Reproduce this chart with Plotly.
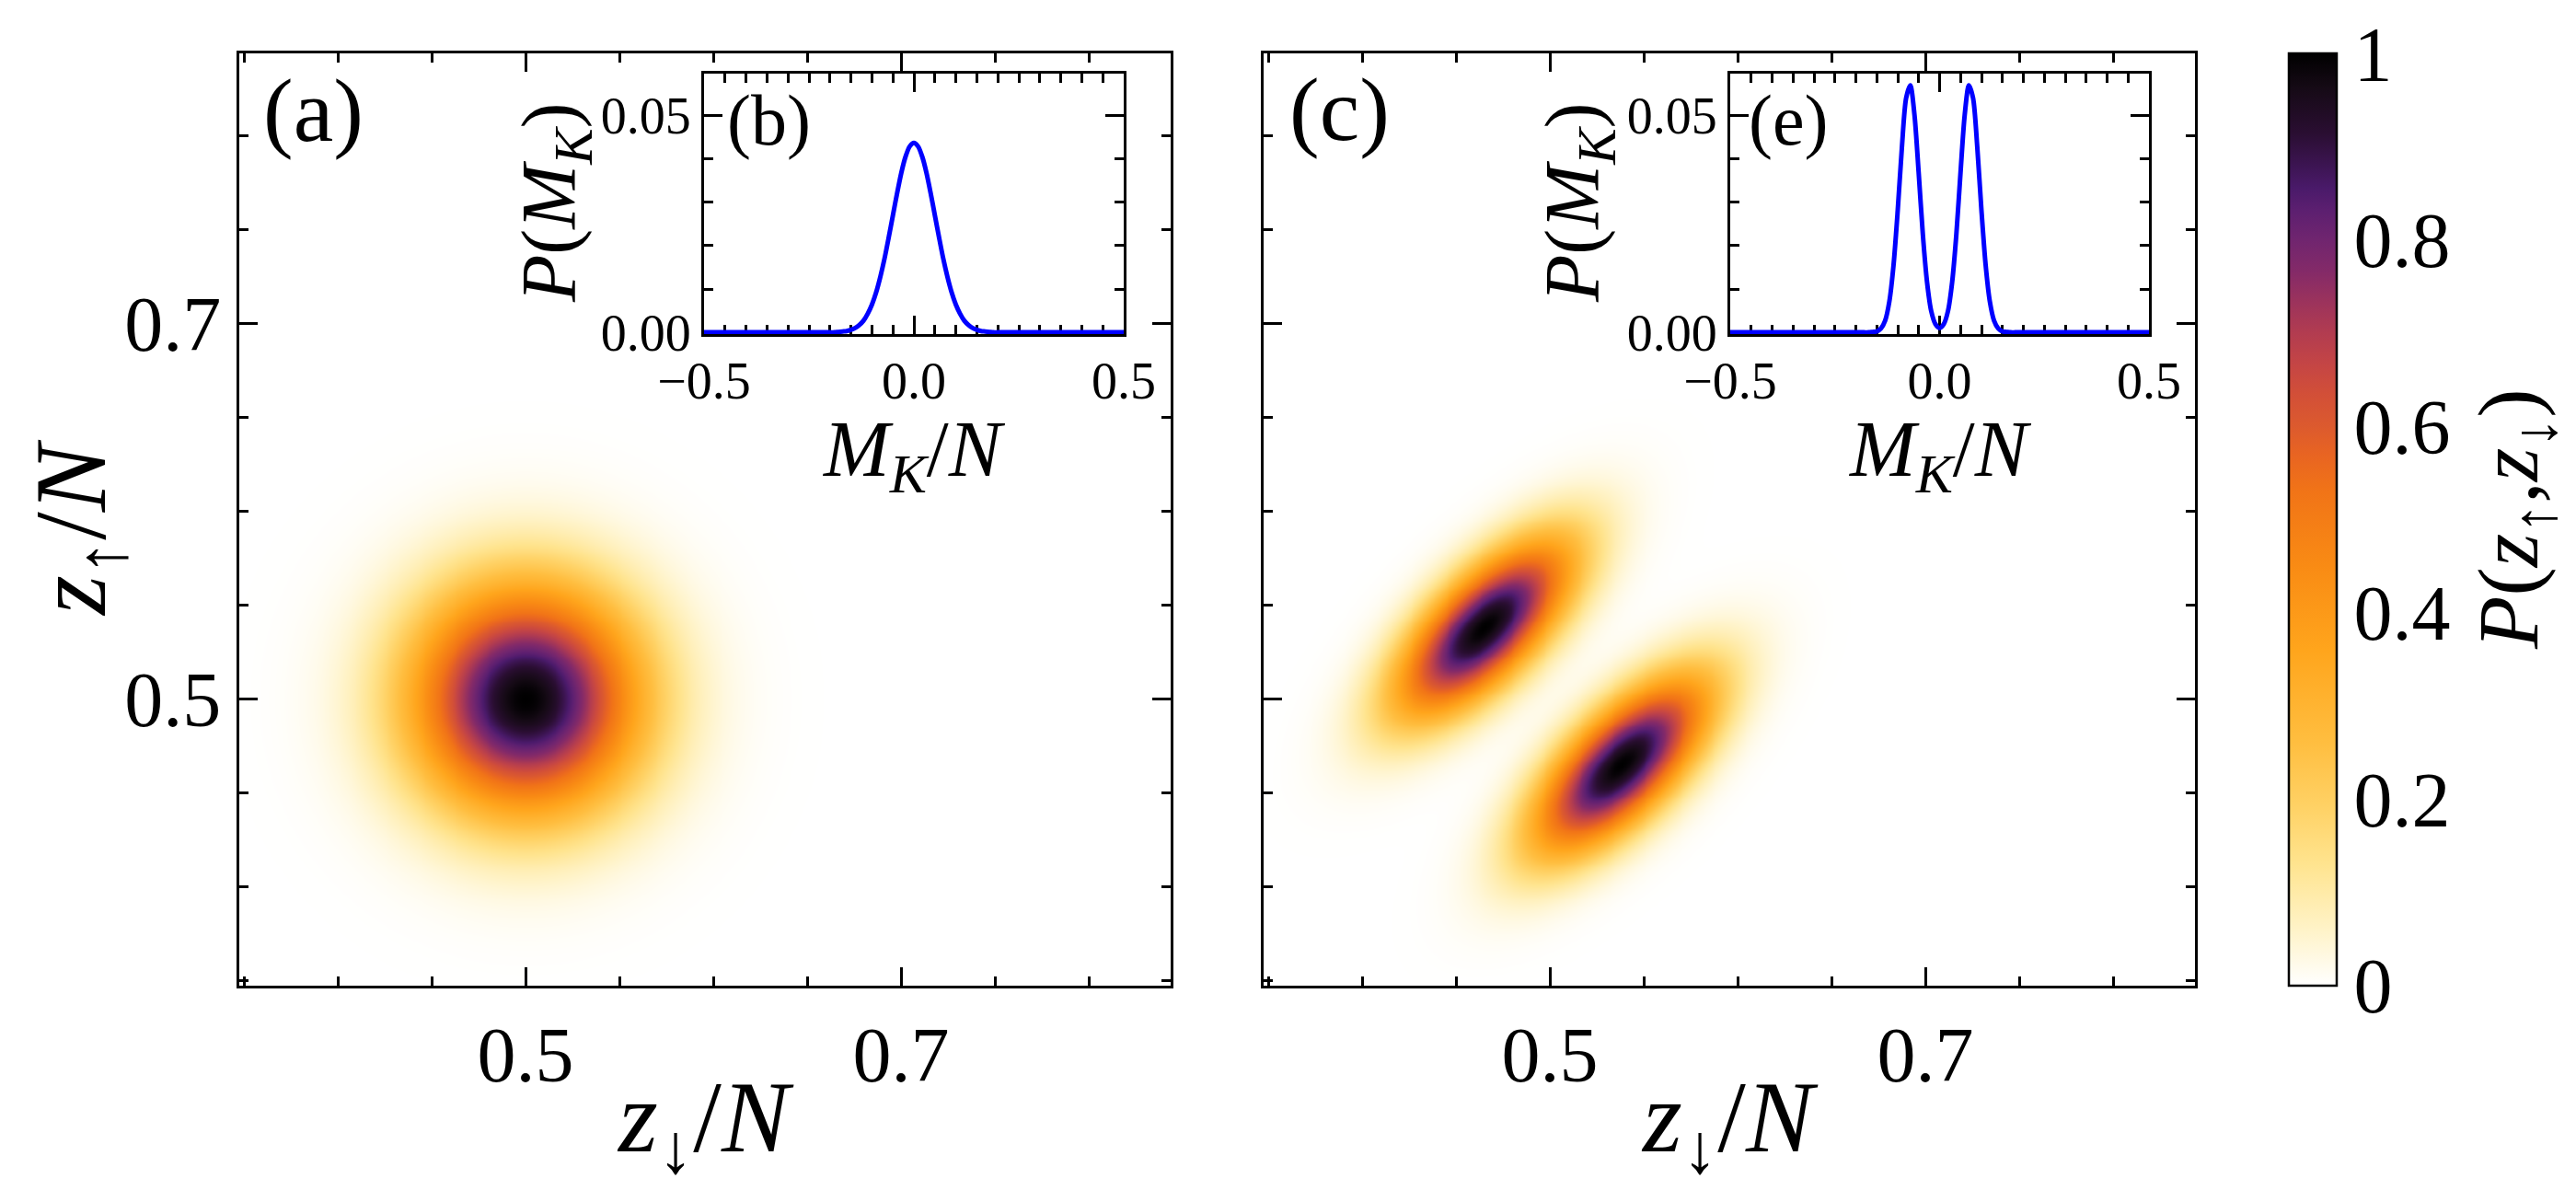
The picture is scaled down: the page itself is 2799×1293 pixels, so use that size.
import numpy as np
import plotly.graph_objects as go

W, H = 2799, 1293
FONT = "Liberation Serif, DejaVu Serif, serif"

# ---------------- data ----------------
# main panels: axis range (z/N) and labelled ticks
Z_RANGE = [0.3475, 0.8436]
Z_MAJOR_START = 0.5
Z_MAJOR_STEP = 0.2
Z_MINOR_START = 0.35
Z_MINOR_STEP = 0.05

# panel (a): single round peak of P(z_up, z_down)
A_CENTER_DOWN = 0.500
A_CENTER_UP = 0.500
A_SIGMA = 0.041

# panel (c): two elongated peaks (long axis along z_up = z_down)
C_CENTERS_DOWN = [0.465, 0.538]
C_CENTERS_UP = [0.538, 0.465]
C_SIGMA_ALONG = 0.041
C_SIGMA_ACROSS = 0.0175

# inset (b): P(M_K) vs M_K/N
B_M = [-0.50, -0.20, -0.19, -0.18, -0.17, -0.16, -0.15, -0.14, -0.13, -0.12, -0.11,
       -0.10, -0.09, -0.08, -0.07, -0.06, -0.05, -0.04, -0.03, -0.02, -0.01,
       0.00, 0.01, 0.02, 0.03, 0.04, 0.05, 0.06, 0.07, 0.08, 0.09, 0.10,
       0.11, 0.12, 0.13, 0.14, 0.15, 0.16, 0.17, 0.18, 0.19, 0.20, 0.50]
B_P = [0.0, 0.0, 0.0, 0.0001, 0.0002, 0.0003, 0.0006, 0.0010, 0.0017, 0.0027, 0.0043,
       0.0064, 0.0092, 0.0128, 0.0170, 0.0219, 0.0270, 0.0321, 0.0368, 0.0405, 0.0429,
       0.0437, 0.0429, 0.0405, 0.0368, 0.0321, 0.0270, 0.0219, 0.0170, 0.0128, 0.0092, 0.0064,
       0.0043, 0.0027, 0.0017, 0.0010, 0.0006, 0.0003, 0.0002, 0.0001, 0.0, 0.0, 0.0]

# inset (e): P(M_K) vs M_K/N (double peak)
E_M = [-0.50, -0.20, -0.19, -0.18, -0.17, -0.16, -0.15, -0.14, -0.13, -0.12, -0.11,
       -0.10, -0.09, -0.08, -0.07, -0.06, -0.05, -0.04, -0.03, -0.02, -0.01,
       0.00, 0.01, 0.02, 0.03, 0.04, 0.05, 0.06, 0.07, 0.08, 0.09, 0.10,
       0.11, 0.12, 0.13, 0.14, 0.15, 0.16, 0.17, 0.18, 0.19, 0.20, 0.50]
E_P = [0.0, 0.0, 0.0, 0.0, 0.0, 0.0001, 0.0002, 0.0009, 0.0027, 0.0071, 0.0155,
       0.0281, 0.0427, 0.0540, 0.0570, 0.0502, 0.0369, 0.0226, 0.0116, 0.0049, 0.0019,
       0.0010, 0.0019, 0.0049, 0.0116, 0.0226, 0.0369, 0.0502, 0.0570, 0.0540, 0.0427, 0.0281,
       0.0155, 0.0071, 0.0027, 0.0009, 0.0002, 0.0001, 0.0, 0.0, 0.0, 0.0, 0.0]

INSET_X_RANGE = [-0.5, 0.5]
INSET_Y_RANGE = [-0.0004, 0.0597]

CBAR_TICKS = [0, 0.2, 0.4, 0.6, 0.8, 0.9999]
CBAR_TEXT = ["0", "0.2", "0.4", "0.6", "0.8", "1"]

COLORSCALE = [
    [0.0, "#ffffff"], [0.06, "#fff3c8"], [0.13, "#ffe48f"], [0.19, "#ffd266"],
    [0.26, "#ffbe40"], [0.36, "#ffa51c"], [0.45, "#f98b14"], [0.53, "#f17417"],
    [0.57, "#e86422"], [0.60, "#dc5a2e"], [0.635, "#d24f38"], [0.667, "#c44545"],
    [0.70, "#b23c50"], [0.733, "#9c335c"], [0.766, "#842a68"], [0.80, "#70256f"],
    [0.832, "#5c1f70"], [0.855, "#4a1a6a"], [0.882, "#3b1450"], [0.914, "#2a0e32"],
    [0.964, "#150a15"], [1.0, "#000000"],
]

# ---------------- density grids ----------------
zgrid = np.linspace(Z_RANGE[0], Z_RANGE[1], 261)
XD, YU = np.meshgrid(zgrid, zgrid)
PA = np.exp(-((XD - A_CENTER_DOWN) ** 2 + (YU - A_CENTER_UP) ** 2) / (2 * A_SIGMA ** 2))
PC = np.zeros_like(XD)
for cd, cu in zip(C_CENTERS_DOWN, C_CENTERS_UP):
    u = ((YU - cu) - (XD - cd)) / np.sqrt(2)
    v = ((YU - cu) + (XD - cd)) / np.sqrt(2)
    PC += np.exp(-u ** 2 / (2 * C_SIGMA_ACROSS ** 2) - v ** 2 / (2 * C_SIGMA_ALONG ** 2))
PC = PC / PC.max()


def fx(px):
    return px / W


def fy(py):
    return 1 - py / H


fig = go.Figure()
fig.add_trace(go.Heatmap(x=zgrid, y=zgrid, z=PA, coloraxis="coloraxis", zsmooth="best",
                         xaxis="x", yaxis="y", hoverinfo="skip"))
fig.add_trace(go.Heatmap(x=zgrid, y=zgrid, z=PC, coloraxis="coloraxis", zsmooth="best",
                         xaxis="x2", yaxis="y2", hoverinfo="skip"))
fig.add_trace(go.Scatter(x=B_M, y=B_P, mode="lines",
                         line=dict(color="#0000ff", width=5, shape="spline", smoothing=0.8),
                         xaxis="x3", yaxis="y3", showlegend=False, hoverinfo="skip"))
fig.add_trace(go.Scatter(x=E_M, y=E_P, mode="lines",
                         line=dict(color="#0000ff", width=5, shape="spline", smoothing=0.8),
                         xaxis="x4", yaxis="y4", showlegend=False, hoverinfo="skip"))


def main_axis(domain, anchor, labels=True):
    return dict(
        domain=domain, anchor=anchor, range=Z_RANGE, automargin=False,
        tickmode="linear", tick0=Z_MAJOR_START, dtick=Z_MAJOR_STEP, tickformat=".1f",
        ticks="inside", ticklen=20, tickwidth=2.5, tickcolor="black",
        minor=dict(tick0=Z_MINOR_START, dtick=Z_MINOR_STEP, ticks="inside",
                   ticklen=10, tickwidth=2.5, tickcolor="black", showgrid=False),
        showline=True, linewidth=3, linecolor="black", mirror="allticks",
        showgrid=False, zeroline=False, showticklabels=labels,
        tickfont=dict(family=FONT, size=84, color="black"),
    )


def inset_x(domain, anchor):
    return dict(
        domain=domain, anchor=anchor, range=INSET_X_RANGE, automargin=False,
        tickmode="linear", tick0=-0.5, dtick=0.5, tickformat=".1f",
        ticks="inside", ticklen=20, tickwidth=2.5, tickcolor="black",
        minor=dict(tick0=-0.5, dtick=0.05, ticks="inside", ticklen=10,
                   tickwidth=2.5, tickcolor="black", showgrid=False),
        showline=True, linewidth=3, linecolor="black", mirror="allticks",
        showgrid=False, zeroline=False, layer="below traces",
        tickfont=dict(family=FONT, size=56, color="black"),
    )


def inset_y(domain, anchor):
    return dict(
        domain=domain, anchor=anchor, range=INSET_Y_RANGE, automargin=False,
        tickmode="linear", tick0=0, dtick=0.05, tickformat=".2f",
        ticks="inside", ticklen=20, tickwidth=2.5, tickcolor="black",
        minor=dict(tick0=0, dtick=0.01, ticks="inside", ticklen=10,
                   tickwidth=2.5, tickcolor="black", showgrid=False),
        showline=True, linewidth=3, linecolor="black", mirror="allticks",
        showgrid=False, zeroline=False, layer="below traces",
        tickfont=dict(family=FONT, size=56, color="black"),
    )


main_y = [fy(1063), fy(50)]
inset_ydom = [fy(355), fy(72)]

fig.update_layout(
    width=W, height=H, autosize=False,
    margin=dict(l=0, r=0, t=0, b=0, autoexpand=False),
    paper_bgcolor="white", plot_bgcolor="white",
    showlegend=False,
    font=dict(family=FONT, color="black"),
    xaxis=main_axis([fx(252), fx(1264)], "y"),
    yaxis=main_axis(main_y, "x"),
    xaxis2=main_axis([fx(1365), fx(2377)], "y2"),
    yaxis2=main_axis(main_y, "x2", labels=False),
    xaxis3=inset_x([fx(757), fx(1213)], "y3"),
    yaxis3=inset_y(inset_ydom, "x3"),
    xaxis4=inset_x([fx(1872), fx(2327)], "y4"),
    yaxis4=inset_y(inset_ydom, "x4"),
    coloraxis=dict(
        cmin=0, cmax=1, colorscale=COLORSCALE,
        colorbar=dict(
            x=fx(2479), xanchor="left", xpad=0, ypad=0,
            y=(main_y[0] + main_y[1]) / 2, yanchor="middle",
            len=1013, lenmode="pixels", thickness=52, thicknessmode="pixels",
            outlinewidth=2.5, outlinecolor="black",
            tickmode="array", tickvals=CBAR_TICKS, ticktext=CBAR_TEXT,
            ticks="", tickfont=dict(family=FONT, size=84, color="black"),
        ),
    ),
)


def ann(text, px, py, size, angle=0):
    fig.add_annotation(text=text, x=fx(px), y=fy(py), xref="paper", yref="paper",
                       xanchor="center", yanchor="middle", showarrow=False,
                       textangle=angle, font=dict(family=FONT, size=size, color="black"))


ann("(a)", 332, 112, 98)
ann("(c)", 1447, 111, 98)
ann("(b)", 827, 122, 78)
ann("(e)", 1935, 123, 78)
ann("<i>z</i><sub>↓</sub>/<i>N</i>", 758, 1214, 110)
ann("<i>z</i><sub>↓</sub>/<i>N</i>", 1871, 1214, 110)
ann("<i>z</i><sub>↑</sub>/<i>N</i>", 77, 566, 110, -90)
ann("<i>P</i>(<i>M</i><sub><i>K</i></sub>)", 595, 213, 84, -90)
ann("<i>P</i>(<i>M</i><sub><i>K</i></sub>)", 1707, 213, 84, -90)
ann("<i>M</i><sub><i>K</i></sub>/<i>N</i>", 985, 486, 86)
ann("<i>M</i><sub><i>K</i></sub>/<i>N</i>", 2100, 486, 86)
ann("<i>P</i>(<i>z</i><sub>↑</sub>,<i>z</i><sub>↓</sub>)", 2724, 556, 94, -90)

fig.write_html("out.html")
